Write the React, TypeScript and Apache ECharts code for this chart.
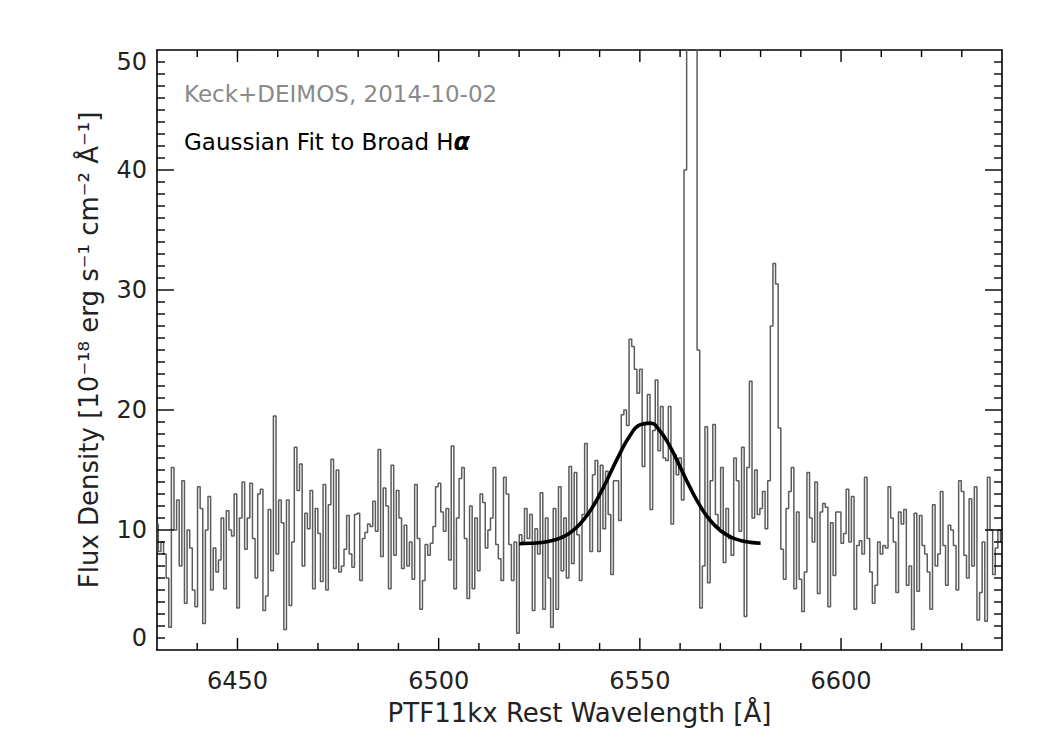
import React, { useEffect, useRef } from "react";
import * as echarts from "echarts";

// Spectrum sampling (rest wavelength, Angstrom)
const WAVE_START = 6430;
const WAVE_STEP = 0.65;

// Flux density values (1e-18 erg/s/cm2/A)
const fluxSeg1 = [
  10.5, 8.2, 9.0, 8.0, 6.0, 1.9, 15.2, 10.0, 12.5, 7.0,
  14.1, 3.9, 10.0, 8.5, 5.0, 3.6, 13.6, 11.8, 2.2, 10.0,
  12.8, 5.0, 8.5, 6.5, 7.5, 11.0, 5.1, 11.6, 10.0, 9.5,
  13.0, 3.5, 11.0, 14.0, 8.4, 11.0, 13.9, 9.3, 6.0, 13.0,
  13.4, 3.3, 4.5, 11.7, 6.6, 19.5, 8.0, 12.5, 10.6, 1.7,
  12.5, 3.7, 9.0, 16.9, 13.3, 15.5, 7.0, 11.4, 10.1, 13.3,
  5.1, 11.8, 9.7, 5.7, 13.8, 5.0, 12.1, 15.9, 6.8, 15.0,
  6.5, 7.0, 8.4, 11.2, 8.0, 6.9, 11.3, 11.4, 5.8, 9.3,
  9.8,
];
const fluxSeg2 = [
  10.5, 10.3, 12.4, 9.9, 16.7, 7.8, 13.5, 12.0, 5.1,
  15.4, 7.9, 13.3, 11.0, 6.8, 10.4, 7.0, 9.0, 5.9, 13.8,
  9.3, 3.4, 5.8, 8.8, 7.9, 8.9, 10.3, 13.6, 13.9, 11.5,
  9.9, 11.8, 7.5, 17.0, 5.1, 11.0, 14.3, 15.2, 9.3, 4.3,
  12.0, 5.1, 11.0, 6.6, 13.0, 12.3, 8.5, 10.0, 11.0, 15.2,
  8.8, 7.6, 5.8, 14.4, 13.0, 8.8, 5.8, 9.0, 1.4, 9.6,
  9.0, 11.8, 9.3, 11.3, 3.3, 10.1, 8.0, 13.1, 3.4, 11.0,
  6.0, 1.9, 11.8, 3.4, 13.6, 6.6, 11.0, 6.0, 15.3, 7.2,
  14.8, 9.6,
];
const fluxSeg3 = [
  5.8, 11.3, 17.2, 11.3, 8.2, 14.6, 15.8, 8.2,
  15.4, 10.1, 14.9, 11.3, 6.3, 14.1, 14.1, 10.8, 19.6, 20.0,
  18.7, 25.9, 25.3, 23.4, 21.4, 23.4, 15.3, 18.9, 21.3, 11.7,
  18.3, 22.5, 16.6, 20.3, 16.0, 15.8, 20.3, 10.5, 16.3, 14.6,
  16.0, 12.5, 40.0, 75, 95, 90, 65, 25.0, 3.5, 7.0,
  18.6, 5.6, 14.1, 18.8, 11.3, 10.2, 15.2, 7.3, 11.8, 9.3,
  7.9, 16.0, 14.1, 9.9, 16.9, 2.8, 15.2, 22.4, 11.0, 15.0,
  11.3, 11.8, 13.2, 10.1, 14.1, 27.0, 32.2, 30.5, 18.5, 8.4,
  5.9, 11.8, 13.2,
];
const fluxSeg4 = [
  15.2, 5.1, 11.5, 5.9, 3.2, 6.5, 14.8,
  11.0, 9.0, 14.0, 4.7, 11.5, 12.2, 11.9, 3.6, 10.6, 6.2,
  11.5, 11.5, 8.9, 9.7, 13.4, 9.0, 12.8, 3.4, 8.7, 9.1,
  8.0, 14.4, 9.3, 6.5, 3.9, 5.4, 9.0, 8.0, 8.7, 8.5,
  13.6, 11.0, 9.0, 4.8, 11.5, 10.5, 11.7, 5.4, 7.0, 1.7,
  11.4, 4.9, 11.2, 8.7, 8.0, 6.5, 3.4, 12.1, 7.0, 8.0,
  13.2, 8.7, 5.4, 10.4, 10.0, 8.7, 5.0, 14.1, 13.2, 7.9,
  6.0, 12.6, 7.0, 13.6, 2.5, 4.8, 9.0, 2.4, 14.4, 10.0,
  6.3, 8.5, 10.0, 9.0,
];

const gaussWave = [
  6520, 6522.5, 6525, 6527.5, 6530, 6532.5, 6535, 6537.5, 6540, 6542.5,
  6545, 6547.5, 6550, 6552.5, 6555, 6557.5, 6560, 6562.5, 6565, 6567.5,
  6570, 6572.5, 6575, 6577.5, 6580,
];
const gaussFlux = [
  8.86, 8.89, 8.94, 9.06, 9.3, 9.73, 10.45, 11.52, 12.94, 14.63,
  16.35, 17.84, 18.76, 18.91, 18.25, 16.94, 15.26, 13.53, 11.99, 10.79,
  9.96, 9.43, 9.13, 8.97, 8.9,
];

// Axis ranges and tick values
const X_MIN = 6430;
const X_MAX = 6640;
const Y_MIN = 0;
const Y_MAX = 50;
const Y_STEP = 10;
const xMajorTicks = [6450, 6500, 6550, 6600];
const xMinorTicks = [
  6440, 6460, 6470, 6480, 6490, 6510, 6520, 6530, 6540, 6560, 6570, 6580,
  6590, 6610, 6620, 6630,
];
const yMajorTicks = [10, 20, 30, 40];
const yMinorTicks = [
  1, 2, 3, 4, 5, 6, 7, 8, 9, 11, 12, 13, 14, 15, 16, 17, 18, 19,
  21, 22, 23, 24, 25, 26, 27, 28, 29, 31, 32, 33, 34, 35, 36, 37, 38, 39,
  41, 42, 43, 44, 45, 46, 47, 48, 49,
];

const annotationTop = "Keck+DEIMOS, 2014-10-02";
const annotationFit = "Gaussian Fit to Broad H";
const xTitle = "PTF11kx Rest Wavelength [Å]";
const yTitle = "Flux Density [10⁻¹⁸ erg s⁻¹ cm⁻² Å⁻¹]";

const FONT = "'DejaVu Sans', 'Liberation Sans', sans-serif";

const GRID = { left: 157, right: 48, top: 50, bottom: 100 };
const CHART_W = 1050;
const CHART_H = 750;

const X_MAJOR_LEN = 12;
const X_MINOR_LEN = 7;
const Y_MAJOR_LEN = 17;
const Y_MINOR_LEN = 8;

export default function App() {
  const ref = useRef<HTMLDivElement>(null);

  useEffect(() => {
    document.body.style.margin = "0";
    if (!ref.current) return;
    const chart = echarts.init(ref.current, undefined, { renderer: "svg" });

    const flux = [...fluxSeg1, ...fluxSeg2, ...fluxSeg3, ...fluxSeg4];
    const spectrum = flux.map((f, i) => [
      Math.round((WAVE_START + WAVE_STEP * i) * 100) / 100,
      f,
    ]);
    const fit = gaussWave.map((w, i) => [w, gaussFlux[i]]);

    // [x, y, isMajor]
    const xTickData = [
      ...xMajorTicks.map((v) => [v, Y_MIN, 1]),
      ...xMinorTicks.map((v) => [v, Y_MIN, 0]),
    ];
    const yTickData = [
      ...yMajorTicks.map((v) => [X_MIN, v, 1]),
      ...yMinorTicks.map((v) => [X_MIN, v, 0]),
    ];
    const tickStyle = { stroke: "#000", lineWidth: 1.4 };

    const frameLine = { show: true, onZero: false, lineStyle: { color: "#000", width: 1.6 } };
    const noTicks = { axisTick: { show: false }, minorTick: { show: false } };

    const xCommon = {
      type: "value",
      min: X_MIN,
      max: X_MAX,
      splitNumber: 4,
      splitLine: { show: false },
      axisLine: frameLine,
      ...noTicks,
    };
    const yCommon = {
      type: "value",
      min: Y_MIN,
      max: Y_MAX,
      interval: Y_STEP,
      splitLine: { show: false },
      axisLine: frameLine,
      ...noTicks,
    };

    chart.setOption({
      animation: false,
      backgroundColor: "#fff",
      grid: { ...GRID, containLabel: false },
      xAxis: [
        {
          ...xCommon,
          position: "bottom",
          name: xTitle,
          nameLocation: "middle",
          nameGap: 50,
          nameTextStyle: { fontFamily: FONT, fontSize: 26, color: "#222" },
          axisLabel: {
            show: true,
            margin: 19,
            fontFamily: FONT,
            fontSize: 24,
            color: "#222",
            showMinLabel: false,
            showMaxLabel: false,
            formatter: (v: number) => String(v),
          },
        },
        { ...xCommon, position: "top", axisLabel: { show: false } },
      ],
      yAxis: [
        {
          ...yCommon,
          position: "left",
          name: yTitle,
          nameLocation: "middle",
          nameRotate: 90,
          nameGap: 55,
          nameTextStyle: { fontFamily: FONT, fontSize: 26, color: "#222" },
          axisLabel: {
            show: true,
            margin: 10,
            fontFamily: FONT,
            fontSize: 24,
            color: "#222",
            verticalAlignMinLabel: "bottom",
            verticalAlignMaxLabel: "top",
          },
        },
        { ...yCommon, position: "right", axisLabel: { show: false } },
      ],
      graphic: [
        {
          type: "text",
          left: 184,
          top: 82,
          style: {
            text: annotationTop,
            fontFamily: FONT,
            fontSize: 23,
            fill: "#8a8a8a",
          },
        },
        {
          type: "text",
          left: 184,
          top: 130,
          style: {
            text: annotationFit + "{a|α}",
            fontFamily: FONT,
            fontSize: 23,
            fill: "#000",
            rich: {
              a: {
                fontFamily: FONT,
                fontSize: 24,
                fontStyle: "italic",
                fontWeight: "bold",
                fill: "#000",
              },
            },
          },
        },
      ],
      series: [
        {
          type: "line",
          xAxisIndex: 0,
          yAxisIndex: 0,
          data: spectrum,
          step: "middle",
          showSymbol: false,
          symbol: "none",
          clip: true,
          lineStyle: { color: "#5c5c5c", width: 1.5 },
          z: 2,
        },
        {
          type: "line",
          xAxisIndex: 0,
          yAxisIndex: 0,
          data: fit,
          smooth: true,
          showSymbol: false,
          symbol: "none",
          lineStyle: { color: "#000", width: 3.6 },
          z: 3,
        },
        {
          // inward x ticks on bottom and top frame
          type: "custom",
          xAxisIndex: 0,
          yAxisIndex: 0,
          silent: true,
          z: 5,
          data: xTickData,
          renderItem: (_params: any, api: any) => {
            const v = api.value(0);
            const len = api.value(2) ? X_MAJOR_LEN : X_MINOR_LEN;
            const b = api.coord([v, Y_MIN]);
            const t = api.coord([v, Y_MAX]);
            return {
              type: "group",
              children: [
                { type: "line", shape: { x1: b[0], y1: b[1], x2: b[0], y2: b[1] - len }, style: tickStyle },
                { type: "line", shape: { x1: t[0], y1: t[1], x2: t[0], y2: t[1] + len }, style: tickStyle },
              ],
            };
          },
        },
        {
          // inward y ticks on left and right frame
          type: "custom",
          xAxisIndex: 0,
          yAxisIndex: 0,
          silent: true,
          z: 5,
          data: yTickData,
          renderItem: (_params: any, api: any) => {
            const v = api.value(1);
            const len = api.value(2) ? Y_MAJOR_LEN : Y_MINOR_LEN;
            const l = api.coord([X_MIN, v]);
            const r = api.coord([X_MAX, v]);
            return {
              type: "group",
              children: [
                { type: "line", shape: { x1: l[0], y1: l[1], x2: l[0] + len, y2: l[1] }, style: tickStyle },
                { type: "line", shape: { x1: r[0], y1: r[1], x2: r[0] - len, y2: r[1] }, style: tickStyle },
              ],
            };
          },
        },
      ],
    });

    return () => {
      chart.dispose();
    };
  }, []);

  return <div ref={ref} style={{ width: CHART_W, height: CHART_H }} />;
}
